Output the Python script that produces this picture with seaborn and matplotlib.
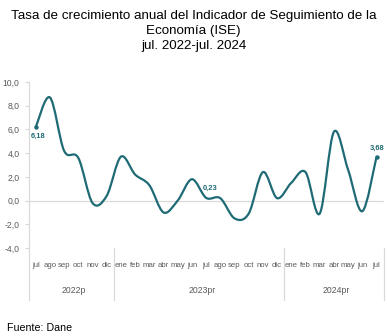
import matplotlib
matplotlib.use("Agg")
import matplotlib.pyplot as plt
from matplotlib.path import Path
from matplotlib.patches import PathPatch
import matplotlib.transforms as mtransforms
import numpy as np
import pandas as pd
import seaborn as sns

# Monthly annual growth rate of the ISE (%), jul 2022 - jul 2024
months = ["jul", "ago", "sep", "oct", "nov", "dic",
          "ene", "feb", "mar", "abr", "may", "jun",
          "jul", "ago", "sep", "oct", "nov", "dic",
          "ene", "feb", "mar", "abr", "may", "jun", "jul"]
growth = [6.18, 8.7, 4.2, 3.6, -0.2, 0.4,
          3.7, 2.2, 1.3, -1.0, 0.0, 1.8,
          0.23, 0.2, -1.5, -1.1, 2.4, 0.2,
          1.5, 2.4, -1.1, 5.8, 2.6, -0.9, 3.68]
years = ["2022p", "2023pr", "2024pr"]
year_spans = [(0, 5), (6, 17), (18, 24)]
labelled = [0, 12, 24]
marked = [0, 24]

LINE = "#1f6b75"
GREY_TXT = "#595959"
GREY_LN = "#d9d9d9"

sns.set_theme(style="white")
plt.rcParams["font.family"] = ["Liberation Sans", "DejaVu Sans"]

df = pd.DataFrame({"pos": np.arange(len(growth)), "mes": months, "valor": growth})

fig = plt.figure(figsize=(3.87, 3.36), dpi=100)
ax = fig.add_axes([28.6 / 387, 1 - 248 / 336, 355 / 387, 166 / 336])

# smoothed line: cubic Bezier segments with Catmull-Rom style control points
xs = df["pos"].to_numpy(dtype=float)
ys = df["valor"].to_numpy(dtype=float)
n = len(xs)
verts = [(xs[0], ys[0])]
codes = [Path.MOVETO]
for i in range(n - 1):
    p0 = np.array([xs[max(i - 1, 0)], ys[max(i - 1, 0)]])
    p1 = np.array([xs[i], ys[i]])
    p2 = np.array([xs[i + 1], ys[i + 1]])
    p3 = np.array([xs[min(i + 2, n - 1)], ys[min(i + 2, n - 1)]])
    c1 = p1 + (p2 - p0) / 6.0
    c2 = p2 - (p3 - p1) / 6.0
    verts += [tuple(c1), tuple(c2), tuple(p2)]
    codes += [Path.CURVE4] * 3
ax.add_patch(PathPatch(Path(verts, codes), fill=False, edgecolor=LINE,
                       lw=1.6, capstyle="round", joinstyle="round", zorder=3))

sns.scatterplot(data=df.iloc[marked], x="pos", y="valor", ax=ax, color=LINE,
                s=10, edgecolor=LINE, linewidth=0, zorder=4, legend=False)

offsets = {0: (1.5, -6.8), 12: (3.2, 6.5), 24: (0.2, 6.5)}
for i in labelled:
    ax.annotate(f"{growth[i]:.2f}".replace(".", ","), (i, growth[i]),
                xytext=offsets[i], textcoords="offset points",
                ha="center", va="center", fontsize=5.4, fontweight="bold",
                color=LINE)

ax.axhline(0, color=GREY_LN, lw=0.9, zorder=1)

ax.set_xlim(-0.5, len(growth) - 0.5)
ax.set_ylim(-4, 10)
yt = np.arange(-4, 10.1, 2)
ax.set_yticks(yt)
ax.set_yticklabels([f"{v:.1f}".replace(".", ",") for v in yt],
                   fontsize=6.2, color=GREY_TXT)
ax.set_xticks(df["pos"])
ax.set_xticklabels(months, fontsize=5.6, color=GREY_TXT)
ax.tick_params(axis="x", length=0, pad=10)
ax.tick_params(axis="y", length=3, width=0.8, color=GREY_LN, pad=3.5, direction="out", left=True)
ax.set_xlabel("")
ax.set_ylabel("")
for side in ["top", "right", "bottom"]:
    ax.spines[side].set_visible(False)
ax.spines["left"].set_color(GREY_LN)
ax.spines["left"].set_linewidth(0.9)

trans = mtransforms.blended_transform_factory(ax.transData, ax.transAxes)
for b in [-0.5, 5.5, 17.5, 24.5]:
    ax.plot([b, b], [0, -0.313], transform=trans, color=GREY_LN, lw=0.9, clip_on=False)
for name, (a, b) in zip(years, year_spans):
    ax.text((a + b) / 2 + 0.2, -0.259, name, transform=trans, ha="center", va="center",
            fontsize=6.2, color=GREY_TXT)

fig.text(0.5, 1 - 10 / 336,
         "Tasa de crecimiento anual del Indicador de Seguimiento de la\nEconomía (ISE)\njul. 2022-jul. 2024",
         ha="center", va="top", fontsize=9.6, linespacing=1.36, color="black")
fig.text(7 / 387, 1 - 328 / 336, "Fuente: Dane", ha="left", va="center",
         fontsize=7.7, color="black")

fig.savefig("out.png", dpi=100)
